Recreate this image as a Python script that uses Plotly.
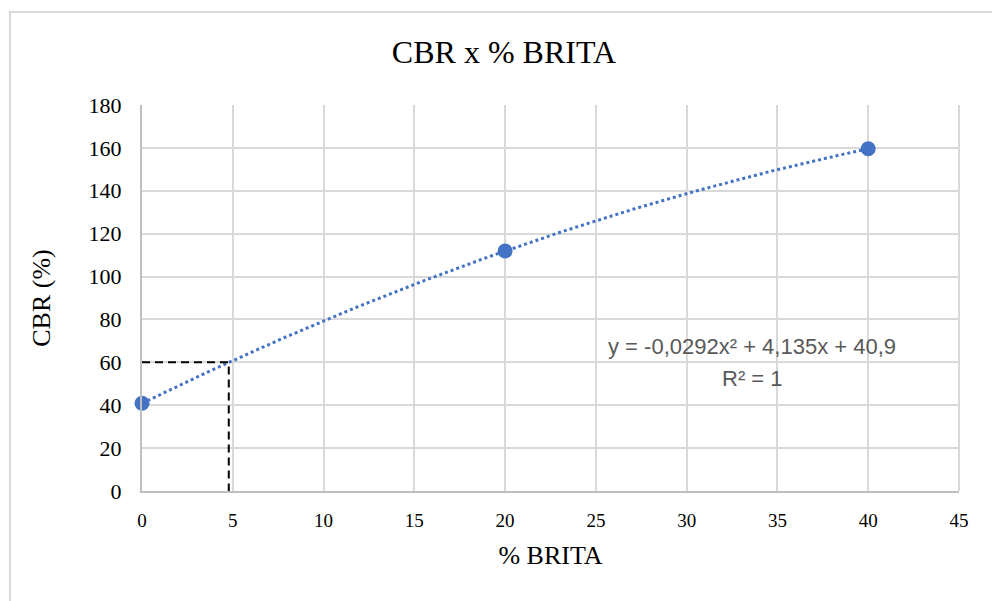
import numpy as np
import plotly.graph_objects as go

# Measured points: % of crushed stone (brita) vs CBR (%)
brita_pct = [0, 20, 40]
cbr_pct = [40.9, 111.9, 159.6]

# Second-order trendline coefficients (a*x^2 + b*x + c)
trend_a, trend_b, trend_c = -0.0292, 4.135, 40.9
trend_label = "y = -0,0292x² + 4,135x + 40,9"
r2_label = "R² = 1"

# Design target
target_cbr = 60
brita_at_target = 4.78

x_ticks = [0, 5, 10, 15, 20, 25, 30, 35, 40, 45]
y_ticks = [0, 20, 40, 60, 80, 100, 120, 140, 160, 180]

BLUE = "#4472C4"
GRID = "#d9d9d9"
SERIF = "Liberation Serif"
SANS = "Liberation Sans"

fig = go.Figure()

# Trendline curve (dotted)
xs = np.linspace(min(brita_pct), max(brita_pct), 200)
ys = trend_a * xs**2 + trend_b * xs + trend_c
fig.add_trace(go.Scatter(
    x=xs, y=ys, mode="lines",
    line=dict(color=BLUE, width=3, dash="dot"),
    hoverinfo="skip", showlegend=False,
))

# Guide lines to the target CBR
fig.add_trace(go.Scatter(
    x=[0, brita_at_target, brita_at_target],
    y=[target_cbr, target_cbr, 0],
    mode="lines",
    line=dict(color="black", width=2, dash="8px,5px"),
    hoverinfo="skip", showlegend=False,
))

# Measured points
fig.add_trace(go.Scatter(
    x=brita_pct, y=cbr_pct, mode="markers",
    marker=dict(color=BLUE, size=15),
    cliponaxis=False, showlegend=False,
))

fig.update_layout(
    template="none",
    width=992, height=601,
    margin=dict(l=142, r=33, t=105, b=110),
    paper_bgcolor="white", plot_bgcolor="white",
    font=dict(family=SERIF, color="#000000", size=21),
    title=dict(
        text="CBR x % BRITA",
        font=dict(family=SERIF, size=32, color="#000000"),
        x=0.508, xanchor="center", y=0.913, yanchor="middle",
    ),
    xaxis=dict(
        range=[0, 45], tickvals=x_ticks, ticktext=[str(v) for v in x_ticks],
        showgrid=True, gridcolor=GRID, gridwidth=2,
        showline=True, linecolor="#bfbfbf", linewidth=2,
        zeroline=False, ticks="", ticklabelstandoff=11,
        tickfont=dict(family=SERIF, size=19, color="#000000"),
        title=dict(text="% BRITA", font=dict(family=SERIF, size=26, color="#000000"),
                   standoff=16),
    ),
    yaxis=dict(
        range=[0, 180], tickvals=y_ticks, ticktext=[str(v) for v in y_ticks],
        showgrid=True, gridcolor=GRID, gridwidth=2,
        showline=True, linecolor="#bfbfbf", linewidth=2,
        zeroline=False, ticks="", ticklabelstandoff=14,
        tickfont=dict(family=SERIF, size=22, color="#000000"),
        title=dict(text="CBR (%)", font=dict(family=SERIF, size=26, color="#000000"),
                   standoff=30),
    ),
    annotations=[
        dict(x=33.6, y=67.5, xref="x", yref="y", text=trend_label, showarrow=False,
             font=dict(family=SANS, size=22, color="#595959"),
             xanchor="center", yanchor="middle"),
        dict(x=33.6, y=52.5, xref="x", yref="y", text=r2_label, showarrow=False,
             font=dict(family=SANS, size=22, color="#595959"),
             xanchor="center", yanchor="middle"),
    ],
    shapes=[
        # right edge of the plot area
        dict(type="line", xref="paper", yref="paper", x0=1, x1=1, y0=0, y1=1,
             line=dict(color=GRID, width=2)),
        # outer chart frame
        dict(type="rect", xref="paper", yref="paper",
             x0=-0.1616, x1=1.2, y0=-0.6, y1=1.2409,
             line=dict(color=GRID, width=2), layer="below"),
    ],
)

fig.write_html("out.html")
